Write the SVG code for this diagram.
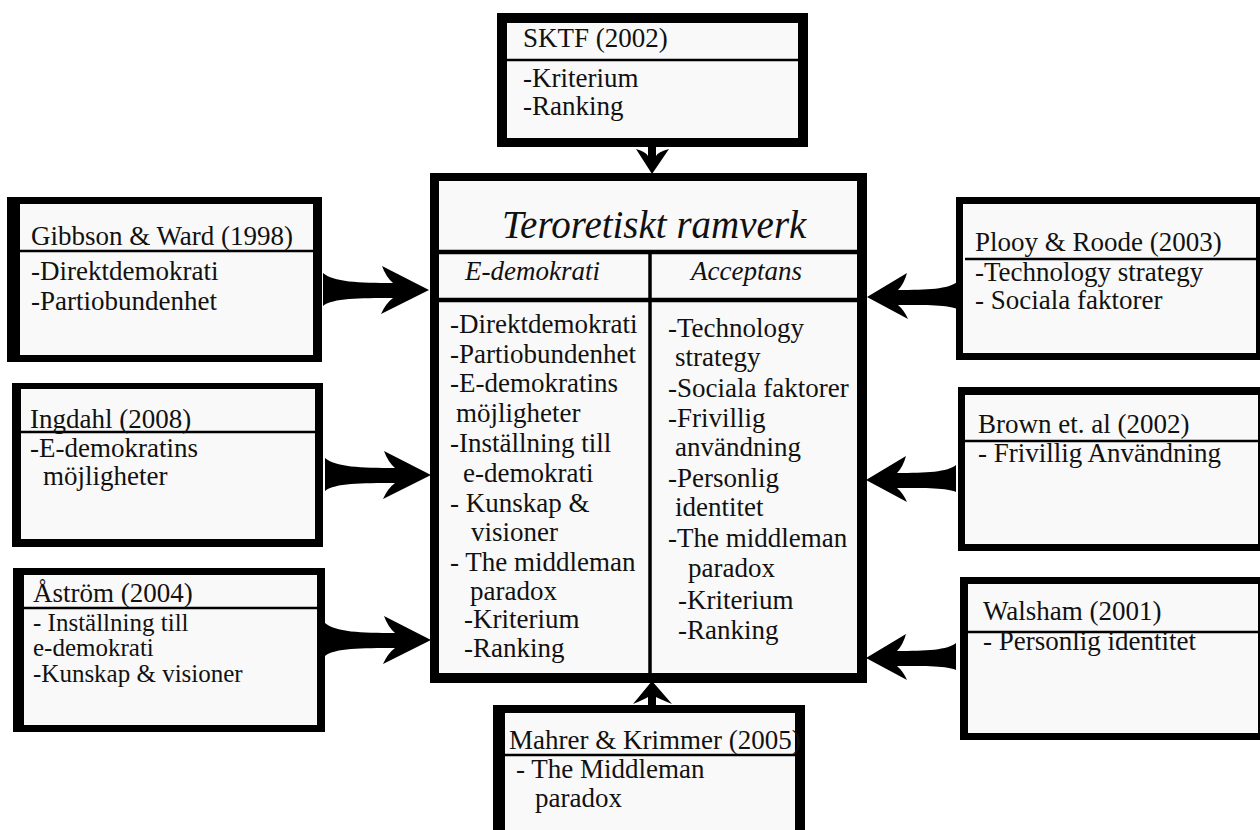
<svg xmlns="http://www.w3.org/2000/svg" width="1260" height="830" viewBox="0 0 1260 830">
<style>
.outer{fill:#000}
.inner{fill:#f9f9f9}
.sep{stroke:#000;stroke-width:2.5}
text{font-family:"Liberation Serif","Times New Roman",serif;font-size:27px;fill:#111}
.it{font-style:italic}
.arrow{fill:#000}
</style>
<defs>
<path id="arL" d="M0,0 L-47,-24 Q-43,-13 -36,-7 C-70,-7 -96,-8 -106,-17 L-106,16 C-96,8 -70,8 -36,8 Q-43,13 -48,24 Z"/>
<path id="arR" d="M0,0 L-40,-24 Q-37,-13 -31,-7 C-60,-7 -82,-8 -90,-15 L-90,12 C-82,8 -60,8 -31,8 Q-37,13 -41,22 Z"/>
</defs>
<rect width="1260" height="830" fill="#fff"/>

<g id="connectors">
<path class="arrow" d="M652,174 L636,149 Q646,152 648,156 L648,146 L656,146 L656,156 Q658,152 669,149 Z"/>
<path class="arrow" d="M652,681 L633,704 Q645,699 648,697 L648,707 L656,707 L656,697 Q660,699 672,704 Z"/>
<use href="#arL" class="arrow" transform="translate(429,290)"/>
<use href="#arL" class="arrow" transform="translate(431,475)"/>
<use href="#arL" class="arrow" transform="translate(431,640)"/>
<use href="#arR" class="arrow" transform="translate(867,297) scale(-1,1)"/>
<use href="#arR" class="arrow" transform="translate(866,480) scale(-1,1)"/>
<use href="#arR" class="arrow" transform="translate(866,658) scale(-1,1)"/>
</g>

<g id="sktf">
<rect class="outer" x="497" y="13" width="311" height="134"/>
<rect class="inner" x="507" y="23" width="291" height="115"/>
<line class="sep" x1="507" y1="60" x2="798" y2="60"/>
<text x="523" y="47">SKTF (2002)</text>
<text x="523" y="87">-Kriterium</text>
<text x="523" y="115">-Ranking</text>
</g>

<g id="central">
<rect class="outer" x="430" y="173" width="437" height="510"/>
<rect class="inner" x="439" y="181" width="418" height="492"/>
<line x1="439" y1="252" x2="857" y2="252" stroke="#000" stroke-width="4.5"/>
<line x1="439" y1="300" x2="857" y2="300" stroke="#000" stroke-width="4.5"/>
<line x1="650" y1="252" x2="650" y2="673" stroke="#000" stroke-width="3.5"/>
<text class="it" x="502" y="238" style="font-size:39px">Teroretiskt ramverk</text>
<text class="it" x="465" y="280">E-demokrati</text>
<text class="it" x="691" y="280">Acceptans</text>
<text x="450" y="333">-Direktdemokrati</text>
<text x="450" y="363">-Partiobundenhet</text>
<text x="450" y="392">-E-demokratins</text>
<text x="456" y="422">möjligheter</text>
<text x="450" y="452">-Inställning till</text>
<text x="463" y="482">e-demokrati</text>
<text x="450" y="512">- Kunskap &amp;</text>
<text x="471" y="541">visioner</text>
<text x="450" y="571">- The middleman</text>
<text x="470" y="600">paradox</text>
<text x="464" y="628">-Kriterium</text>
<text x="464" y="657">-Ranking</text>
<text x="668" y="337">-Technology</text>
<text x="675" y="366">strategy</text>
<text x="668" y="397">-Sociala faktorer</text>
<text x="668" y="427">-Frivillig</text>
<text x="675" y="456">användning</text>
<text x="668" y="487">-Personlig</text>
<text x="675" y="516">identitet</text>
<text x="668" y="547">-The middleman</text>
<text x="688" y="577">paradox</text>
<text x="678" y="609">-Kriterium</text>
<text x="678" y="639">-Ranking</text>
</g>

<g id="gibbson">
<rect class="outer" x="7" y="197" width="315" height="165"/>
<rect class="inner" x="20" y="204" width="293" height="151"/>
<line class="sep" x1="20" y1="251" x2="313" y2="251"/>
<text x="31" y="245">Gibbson &amp; Ward (1998)</text>
<text x="31" y="280">-Direktdemokrati</text>
<text x="31" y="310">-Partiobundenhet</text>
</g>

<g id="ingdahl">
<rect class="outer" x="12" y="383" width="311" height="164"/>
<rect class="inner" x="21" y="389" width="294" height="150"/>
<line class="sep" x1="21" y1="432" x2="315" y2="432"/>
<text x="30" y="428">Ingdahl (2008)</text>
<text x="30" y="457">-E-demokratins</text>
<text x="43" y="485">möjligheter</text>
</g>

<g id="astrom">
<rect class="outer" x="13" y="568" width="312" height="164"/>
<rect class="inner" x="24" y="575" width="293" height="150"/>
<line class="sep" x1="24" y1="608" x2="317" y2="608"/>
<text x="33" y="602">Åström (2004)</text>
<text x="33" y="631" style="font-size:25px">- Inställning till</text>
<text x="33" y="656" style="font-size:25px">e-demokrati</text>
<text x="33" y="682" style="font-size:25px">-Kunskap &amp; visioner</text>
</g>

<g id="plooy">
<rect class="outer" x="956" y="197" width="304" height="163"/>
<rect class="inner" x="963" y="204" width="293" height="149"/>
<line class="sep" x1="965" y1="259" x2="1260" y2="259"/>
<text x="975" y="251">Plooy &amp; Roode (2003)</text>
<text x="975" y="281">-Technology strategy</text>
<text x="975" y="309">- Sociala faktorer</text>
</g>

<g id="brown">
<rect class="outer" x="958" y="387" width="304" height="164"/>
<rect class="inner" x="965" y="395" width="293" height="149"/>
<line class="sep" x1="965" y1="441" x2="1260" y2="441"/>
<text x="978" y="433">Brown et. al (2002)</text>
<text x="978" y="462">- Frivillig Användning</text>
</g>

<g id="walsham">
<rect class="outer" x="960" y="577" width="302" height="163"/>
<rect class="inner" x="968" y="584" width="290" height="149"/>
<line class="sep" x1="968" y1="632" x2="1260" y2="632"/>
<text x="983" y="620">Walsham (2001)</text>
<text x="983" y="650">- Personlig identitet</text>
</g>

<g id="mahrer">
<rect class="outer" x="493" y="705" width="312" height="140"/>
<rect class="inner" x="505" y="713" width="290" height="130"/>
<line class="sep" x1="505" y1="755" x2="795" y2="755"/>
<text x="509" y="749">Mahrer &amp; Krimmer (2005)</text>
<text x="516" y="778">- The Middleman</text>
<text x="535" y="807">paradox</text>
</g>
</svg>
